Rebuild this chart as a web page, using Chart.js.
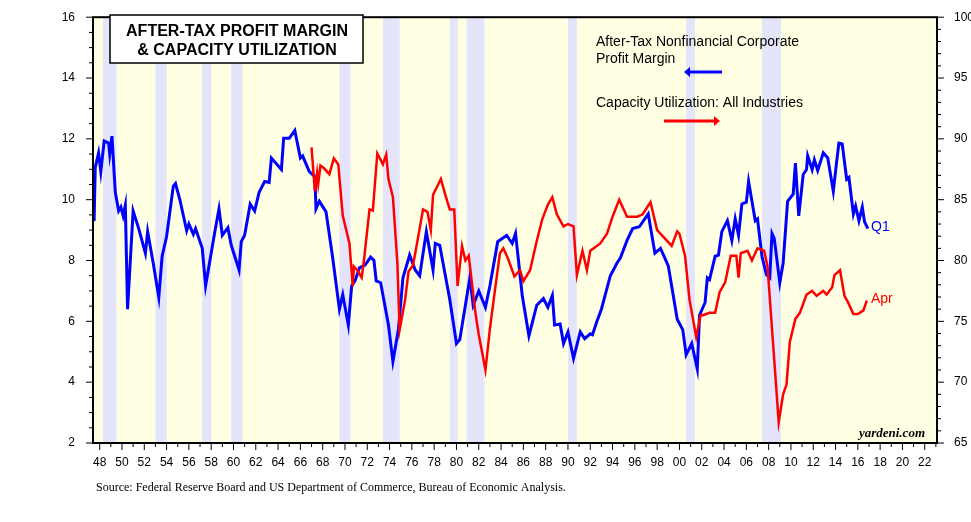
<!DOCTYPE html>
<html><head><meta charset="utf-8">
<script src="https://cdn.jsdelivr.net/npm/chart.js@4"></script>
<style>html,body{margin:0;padding:0;background:#fff}#wrap{width:971px;height:522px}</style>
</head><body><div id="wrap"><canvas id="c"></canvas></div>
<script>
// profit margin (left axis, %), [year, value]
const marginPts = [
[1947.5,9.3],[1947.6,11.05],[1947.9,11.54],[1948.1,10.92],[1948.4,11.93],[1948.8,11.86],[1948.9,11.5],[1949.1,12.09],
[1949.4,10.24],[1949.7,9.63],[1949.9,9.76],[1950.1,9.47],[1950.3,9.82],[1950.5,6.4],[1951.0,9.63],[1951.5,9.05],
[1952.1,8.24],[1952.3,8.95],[1952.8,7.92],[1953.3,6.79],[1953.6,8.14],[1954.0,8.79],[1954.6,10.44],[1954.8,10.53],
[1955.2,9.99],[1955.8,8.98],[1956.0,9.2],[1956.4,8.86],[1956.6,9.05],[1957.2,8.4],[1957.5,7.17],[1958.3,8.89],
[1958.7,9.7],[1959.0,8.83],[1959.5,9.08],[1959.8,8.5],[1960.5,7.69],[1960.7,8.62],[1961.0,8.83],[1961.5,9.86],
[1961.9,9.63],[1962.3,10.24],[1962.8,10.6],[1963.2,10.57],[1963.4,11.37],[1964.3,10.99],[1964.5,12.02],[1965.0,12.02],
[1965.5,12.28],[1966.0,11.37],[1966.2,11.44],[1966.8,10.92],[1967.3,10.76],[1967.4,9.7],[1967.7,9.95],[1968.3,9.6],
[1968.9,8.08],[1969.5,6.4],[1969.8,6.88],[1970.3,5.88],[1970.6,7.17],[1970.9,7.33],[1971.3,7.76],[1971.8,7.85],
[1972.3,8.11],[1972.6,8.0],[1972.8,7.33],[1973.2,7.27],[1973.9,5.88],[1974.3,4.68],[1974.8,5.75],[1975.2,7.43],
[1975.8,8.18],[1976.3,7.69],[1976.7,7.5],[1977.3,8.95],[1977.9,7.69],[1978.1,8.56],[1978.5,8.5],[1979.4,6.72],
[1980.0,5.27],[1980.3,5.4],[1981.2,7.43],[1981.5,6.53],[1982.0,7.0],[1982.6,6.46],[1983.0,7.17],[1983.7,8.62],
[1984.5,8.83],[1985.0,8.56],[1985.3,8.89],[1985.9,6.85],[1986.5,5.52],[1987.2,6.53],[1987.8,6.75],[1988.2,6.46],
[1988.6,6.85],[1988.8,5.88],[1989.3,5.91],[1989.6,5.27],[1990.0,5.65],[1990.5,4.78],[1991.1,5.65],[1991.5,5.43],
[1992.0,5.59],[1992.2,5.56],[1992.6,6.0],[1993.0,6.4],[1993.8,7.5],[1994.4,7.92],[1994.7,8.08],[1995.3,8.66],
[1995.8,9.05],[1996.4,9.11],[1997.2,9.53],[1997.8,8.24],[1998.3,8.4],[1999.0,7.82],[1999.8,6.07],[2000.3,5.72],
[2000.6,4.9],[2001.1,5.27],[2001.6,4.43],[2001.8,6.2],[2002.3,6.62],[2002.5,7.43],[2002.7,7.37],[2003.2,8.14],
[2003.5,8.18],[2003.8,8.95],[2004.3,9.31],[2004.7,8.66],[2005.0,9.37],[2005.3,8.83],[2005.6,9.86],[2006.0,9.92],
[2006.2,10.6],[2006.8,9.31],[2007.0,9.37],[2007.4,8.14],[2007.8,7.53],[2008.1,7.43],[2008.3,8.89],[2008.5,8.73],
[2009.0,7.27],[2009.3,7.92],[2009.7,9.95],[2010.2,10.18],[2010.4,11.2],[2010.7,9.47],[2011.1,10.83],[2011.4,10.99],
[2011.5,11.44],[2011.9,10.99],[2012.1,11.31],[2012.4,10.96],[2012.9,11.54],[2013.3,11.37],[2013.8,10.28],[2014.1,11.25],
[2014.3,11.86],[2014.6,11.83],[2015.0,10.67],[2015.2,10.73],[2015.6,9.53],[2015.8,9.79],[2016.1,9.31],[2016.4,9.76],
[2016.6,9.27],[2016.9,9.05]
];
// capacity utilization (right axis, %), [year, value]
const capacityPts = [
[1967.0,89.3],[1967.3,85.7],[1967.5,87.2],[1967.6,86.3],[1967.8,87.8],[1968.1,87.6],[1968.6,87.1],[1969.0,88.4],
[1969.4,87.9],[1969.8,83.7],[1970.4,81.4],[1970.7,77.9],[1970.8,79.5],[1971.1,79.2],[1971.5,78.6],[1971.7,80.0],
[1972.2,84.2],[1972.5,84.1],[1972.9,88.8],[1973.4,87.9],[1973.7,88.7],[1973.9,86.7],[1974.3,85.2],[1974.7,79.8],
[1974.9,74.3],[1975.4,76.8],[1975.7,79.1],[1976.1,79.6],[1976.5,81.6],[1977.0,84.2],[1977.4,84.0],[1977.7,82.5],
[1977.9,85.4],[1978.6,86.7],[1979.0,85.4],[1979.4,84.2],[1979.8,84.2],[1980.1,77.9],[1980.5,81.2],[1980.8,80.0],
[1981.1,80.4],[1981.7,75.7],[1982.0,73.9],[1982.6,71.0],[1983.0,74.4],[1983.5,77.9],[1983.9,80.6],[1984.2,81.0],
[1984.6,80.2],[1985.2,78.7],[1985.7,79.2],[1986.0,78.3],[1986.6,79.2],[1987.2,81.6],[1987.7,83.4],[1988.2,84.6],
[1988.6,85.2],[1989.0,83.8],[1989.6,82.8],[1990.0,83.0],[1990.5,82.8],[1990.8,78.8],[1991.3,80.8],[1991.7,79.2],
[1992.0,80.8],[1992.9,81.4],[1993.5,82.2],[1994.0,83.6],[1994.6,85.0],[1995.3,83.6],[1996.2,83.6],[1996.7,83.8],
[1997.4,84.8],[1998.0,82.5],[1998.5,82.0],[1999.3,81.2],[1999.8,82.4],[2000.0,82.2],[2000.5,80.4],[2000.9,76.8],
[2001.5,73.7],[2001.9,75.5],[2002.1,75.5],[2002.7,75.7],[2003.2,75.7],[2003.6,77.4],[2004.1,78.2],[2004.6,80.4],
[2005.1,80.4],[2005.3,78.6],[2005.5,80.6],[2006.1,80.8],[2006.5,80.0],[2007.0,81.0],[2007.6,80.8],[2007.9,79.5],
[2008.3,74.4],[2008.6,70.6],[2008.9,66.7],[2009.3,69.0],[2009.6,69.8],[2009.9,73.3],[2010.4,75.2],[2010.8,75.7],
[2011.4,77.2],[2011.9,77.5],[2012.3,77.1],[2012.9,77.5],[2013.2,77.2],[2013.7,77.8],[2013.9,78.8],[2014.4,79.2],
[2014.8,77.1],[2015.1,76.6],[2015.6,75.6],[2016.0,75.6],[2016.5,75.9],[2016.8,76.7]
];
// recessions [start, end], as placed in the picture
const recessions = [[1948.3,1949.5],[1953.0,1954.0],[1957.2,1958.0],[1959.8,1960.8],[1969.5,1970.5],[1973.4,1974.9],
  [1979.4,1980.1],[1980.9,1982.5],[1990.0,1990.8],[2000.6,2001.4],[2007.4,2009.1]];
const leftTicks = [2,4,6,8,10,12,14,16];
const rightTicks = [65,70,75,80,85,90,95,100];

const toXY = pts => pts.map(p => ({x: p[0], y: p[1]}));

const backdrop = {
  id: 'backdrop',
  beforeDatasetsDraw(chart) {
    const {ctx, chartArea: a, scales: {x}} = chart;
    ctx.save();
    ctx.fillStyle = '#ffffe3';
    ctx.fillRect(a.left, a.top, a.right - a.left, a.bottom - a.top);
    ctx.fillStyle = '#e4e4fb';
    recessions.forEach(r => {
      const x0 = x.getPixelForValue(r[0]), x1 = x.getPixelForValue(r[1]);
      ctx.fillRect(x0, a.top, x1 - x0, a.bottom - a.top);
    });
    ctx.restore();
  },
  afterDraw(chart) {
    const {ctx, chartArea: a, scales} = chart;
    ctx.save();
    // frame
    ctx.strokeStyle = '#000'; ctx.lineWidth = 2;
    ctx.strokeRect(a.left, a.top, a.right - a.left, a.bottom - a.top);
    // minor ticks
    ctx.lineWidth = 1;
    for (let v = 65; v <= 100; v++) {
      const y = scales.yR.getPixelForValue(v);
      ctx.beginPath(); ctx.moveTo(a.right, y); ctx.lineTo(a.right + (v % 5 ? 4 : 7), y); ctx.stroke();
    }
    for (let v = 2; v <= 16; v += 0.5) {
      const y = scales.yL.getPixelForValue(v);
      ctx.beginPath(); ctx.moveTo(a.left, y); ctx.lineTo(a.left - (v % 2 ? 4 : 7), y); ctx.stroke();
    }
    for (let v = 1948; v <= 2023; v++) {
      const px = scales.x.getPixelForValue(v);
      ctx.beginPath(); ctx.moveTo(px, a.bottom); ctx.lineTo(px, a.bottom + (v % 2 ? 4 : 7)); ctx.stroke();
    }
    // title box
    ctx.fillStyle = '#fff';
    ctx.fillRect(110, 15, 253, 48);
    ctx.strokeStyle = '#000'; ctx.lineWidth = 1.5;
    ctx.strokeRect(110, 15, 253, 48);
    ctx.fillStyle = '#000';
    ctx.font = 'bold 16px "Liberation Sans", Arial';
    ctx.textAlign = 'center';
    ctx.fillText('AFTER-TAX PROFIT MARGIN', 237, 36);
    ctx.fillText('& CAPACITY UTILIZATION', 237, 55);
    // legend texts
    ctx.textAlign = 'left';
    ctx.font = '14px "Liberation Sans", Arial';
    ctx.fillText('After-Tax Nonfinancial Corporate', 596, 46);
    ctx.fillText('Profit Margin', 596, 63);
    ctx.fillText('Capacity Utilization: All Industries', 596, 107);
    const arrow = (x0, x1, y, col) => {
      ctx.strokeStyle = col; ctx.fillStyle = col; ctx.lineWidth = 3;
      ctx.beginPath(); ctx.moveTo(x0, y); ctx.lineTo(x1, y); ctx.stroke();
      const tip = x1 > x0 ? x1 + 6 : x1 - 6;
      ctx.beginPath(); ctx.moveTo(tip, y); ctx.lineTo(x1, y - 5); ctx.lineTo(x1, y + 5); ctx.closePath(); ctx.fill();
    };
    arrow(722, 690, 72, '#0000ff');
    arrow(664, 714, 121, '#ff0000');
    ctx.font = '14px "Liberation Sans", Arial';
    ctx.fillStyle = '#0000ff'; ctx.fillText('Q1', 871, 231);
    ctx.fillStyle = '#ff0000'; ctx.fillText('Apr', 871, 303);
    ctx.fillStyle = '#000';
    ctx.font = 'bold italic 13px "Liberation Serif", serif';
    ctx.textAlign = 'right';
    ctx.fillText('yardeni.com', 925, 437);
    ctx.textAlign = 'left';
    ctx.font = '12px "Liberation Serif", serif';
    ctx.fillText('Source: Federal Reserve Board and US Department of Commerce, Bureau of Economic Analysis.', 96, 491);
    ctx.restore();
  }
};

new Chart(document.getElementById('c'), {
  type: 'line',
  data: {
    datasets: [
      {label: 'Capacity Utilization', data: toXY(capacityPts), yAxisID: 'yR', borderColor: '#ff0000', borderWidth: 2.5, pointRadius: 0, tension: 0},
      {label: 'Profit Margin', data: toXY(marginPts), yAxisID: 'yL', borderColor: '#0000ff', borderWidth: 3, pointRadius: 0, tension: 0}
    ]
  },
  options: {
    animation: false, responsive: true, maintainAspectRatio: false,
    layout: {padding: {top: 10, left: 0, right: 0, bottom: 0}},
    plugins: {legend: {display: false}, tooltip: {enabled: false}},
    scales: {
      x: {
        type: 'linear', min: 1947.4, max: 2023.1,
        afterBuildTicks: s => { s.ticks = []; for (let v = 1948; v <= 2022; v += 2) s.ticks.push({value: v}); },
        afterFit: s => { s.height = 79; },
        grid: {display: false}, border: {display: false},
        ticks: {color: '#000', font: {size: 12, family: '"Liberation Sans", Arial'}, maxRotation: 0, autoSkip: false, padding: 4,
          callback: v => String(v % 100).padStart(2, '0')}
      },
      yL: {
        position: 'left', min: 2, max: 16,
        afterBuildTicks: s => { s.ticks = leftTicks.map(v => ({value: v})); },
        afterFit: s => { s.width = 93; },
        grid: {display: false}, border: {display: false},
        ticks: {color: '#000', font: {size: 12, family: '"Liberation Sans", Arial'}, padding: 10}
      },
      yR: {
        position: 'right', min: 65, max: 100,
        afterBuildTicks: s => { s.ticks = rightTicks.map(v => ({value: v})); },
        afterFit: s => { s.width = 34; },
        grid: {display: false}, border: {display: false},
        ticks: {color: '#000', font: {size: 12, family: '"Liberation Sans", Arial'}, padding: 9}
      }
    }
  },
  plugins: [backdrop]
});
</script></body></html>
